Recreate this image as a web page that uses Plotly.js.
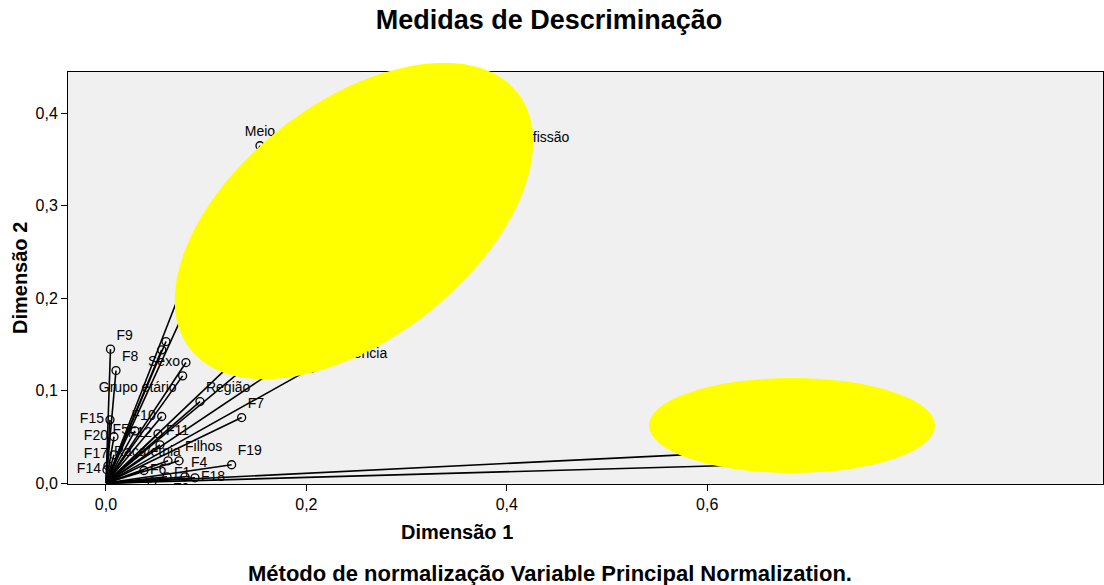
<!DOCTYPE html>
<html><head><meta charset="utf-8">
<script src="https://cdn.plot.ly/plotly-3.0.1.min.js"></script>
<style>html,body{margin:0;padding:0;background:#fff}</style>
</head><body><div id="chart" style="width:1104px;height:585px"></div>
<script>
// ---------- data (discrimination measures) ----------
const variables = ["F9","F8","Sexo","Grupo etário","F13","F16","Região","F7","F10","F19","F1","Filhos","F4","F18","F6","F2","F3","F14","F15","F20","F17","Raça/etnia","F5","F12","F11","Residência","Meio","Profissão","Instrução","Escolaridade","Rendimento","Estado civil","Religião"];
const dim1 = [0.0045,0.0100,0.0798,0.0765,0.0599,0.0556,0.0938,0.1354,0.0556,0.1254,0.0619,0.0729,0.0788,0.0888,0.0379,0.0609,0.0459,0.0010,0.0040,0.0080,0.0080,0.0020,0.0289,0.0519,0.0539,0.2056,0.1537,0.3982,0.1038,0.2236,0.2735,0.6826,0.6926];
const dim2 = [0.1449,0.1217,0.1304,0.1160,0.1531,0.1441,0.0882,0.0709,0.0720,0.0198,0.0241,0.0241,0.0068,0.0057,0.0136,0.0068,0.0014,0.0144,0.0684,0.0501,0.0306,0.0187,0.0565,0.0533,0.0414,0.1246,0.3649,0.3582,0.2890,0.2306,0.1982,0.0362,0.0212];
const xTickValues = [0, 0.2, 0.4, 0.6];

// ---------- label placement (style) ----------
const labelPosition = ["top right","top right","middle left","bottom left","top right","middle right","top right","top right","middle left","top right","bottom right","top right","top right","middle right","middle right","bottom right","bottom right","middle left","middle left","middle left","middle left","top right","middle left","middle left","top right","top right","top center","top right","top right","top right","top left","top right","top right"];
const labelGap = [8,8,8,8,27,62,8,8,8,8,8,8,8,8,8,8,8,8,8,8,8,8,8,8,8,8,8,8,8,8,8,8,8];

const FONT = "Liberation Sans, Arial, sans-serif";
const L = 68, T = 72, R = 1103, B = 484;
function pxX(p){ return (p - L) / (R - L); }
function pxY(p){ return (B - p) / (B - T); }
function ellipsePath(cx, cy, a, b, deg){
  const th = deg * Math.PI / 180; let d = "";
  for (let k = 0; k <= 90; k++){
    const t = 2 * Math.PI * k / 90;
    const X = a*Math.cos(t)*Math.cos(th) + b*Math.sin(t)*Math.sin(th);
    const Y = -a*Math.cos(t)*Math.sin(th) + b*Math.sin(t)*Math.cos(th);
    d += (k ? "L" : "M") + pxX(cx + X).toFixed(5) + "," + pxY(cy + Y).toFixed(5);
  }
  return d + "Z";
}

// vectors from the origin
const lx = [], ly = [];
dim1.forEach((v, i) => { lx.push(0, v, null); ly.push(0, dim2[i], null); });

const traces = [
  { x: dim1, y: dim2, text: variables, type: "scatter", mode: "markers+text",
    marker: { size: labelGap, opacity: 0, color: "#000" },
    textposition: labelPosition, textfont: { family: FONT, size: 14, color: "#000" },
    hoverinfo: "skip", showlegend: false },
  { x: lx, y: ly, type: "scatter", mode: "lines",
    line: { color: "#000", width: 1.6 }, hoverinfo: "skip", showlegend: false },
  { x: dim1, y: dim2, type: "scatter", mode: "markers", text: variables,
    marker: { symbol: "circle-open", size: 8, color: "#000", line: { width: 1.3, color: "#000" } },
    showlegend: false }
];

const axisCommon = {
  showline: true, mirror: true, linecolor: "#000", linewidth: 1,
  ticks: "outside", ticklen: 6, tickwidth: 1, tickcolor: "#000",
  showgrid: false, zeroline: false, tickformat: ".1f",
  tickfont: { family: FONT, size: 16, color: "#000" }
};

const layout = {
  width: 1104, height: 585,
  margin: { l: L, r: 1104 - R, t: T, b: 585 - B },
  paper_bgcolor: "#ffffff", plot_bgcolor: "#f0f0f0",
  separators: ",.",
  showlegend: false,
  title: { text: "<b>Medidas de Descriminação</b>", font: { family: FONT, size: 27, color: "#000" },
           x: 549/1104, xanchor: "center", xref: "container", y: 1 - 20/585, yanchor: "middle", yref: "container" },
  xaxis: Object.assign({}, axisCommon, { range: [-0.0379, 0.995], tickvals: xTickValues }),
  yaxis: Object.assign({}, axisCommon, { range: [-0.001, 0.4447], tick0: 0, dtick: 0.1 }),
  shapes: [
    { type: "path", xref: "paper", yref: "paper", layer: "above",
      path: ellipsePath(354, 221, 208, 118, 38), fillcolor: "#ffff00", line: { width: 0 } },
    { type: "circle", xref: "paper", yref: "paper", layer: "above",
      x0: pxX(649), x1: pxX(935), y0: pxY(473), y1: pxY(378), fillcolor: "#ffff00", line: { width: 0 } }
  ],
  annotations: [
    { text: "<b>Dimensão 1</b>", xref: "paper", yref: "paper", x: pxX(457), y: pxY(532),
      xanchor: "center", yanchor: "middle",
      showarrow: false, font: { family: FONT, size: 20, color: "#000" } },
    { text: "<b>Dimensão 2</b>", xref: "paper", yref: "paper", x: pxX(20), y: pxY(278), textangle: -90,
      xanchor: "center", yanchor: "middle",
      showarrow: false, font: { family: FONT, size: 20, color: "#000" } },
    { text: "<b>Método de normalização Variable Principal Normalization.</b>", xref: "paper", yref: "paper",
      x: pxX(550), y: pxY(573), xanchor: "center", yanchor: "middle",
      showarrow: false, font: { family: FONT, size: 22, color: "#000" } }
  ]
};

Plotly.newPlot("chart", traces, layout, { displayModeBar: false, staticPlot: true });
</script></body></html>
